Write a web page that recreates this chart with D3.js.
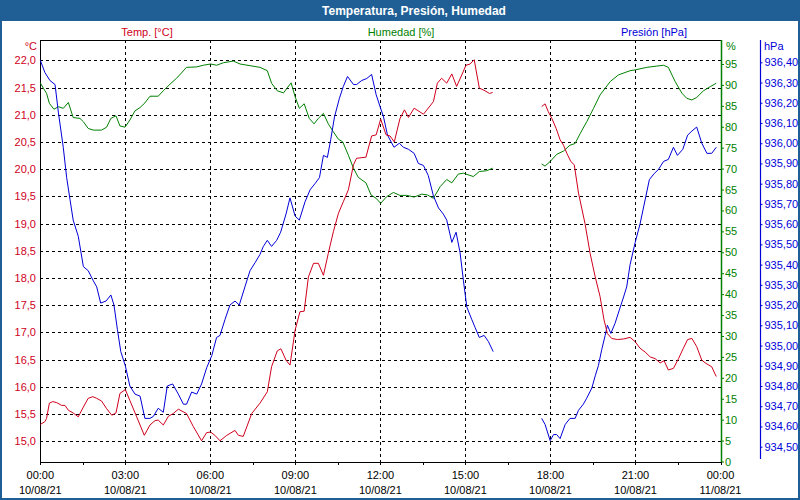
<!DOCTYPE html>
<html>
<head>
<meta charset="utf-8">
<script src="https://cdn.jsdelivr.net/npm/d3@7"></script>
<style>
  body { margin: 0; background: #fff; }
  text { font-family: "Liberation Sans", Arial, sans-serif; font-size: 11px; }
</style>
</head>
<body>
<script>
const width = 800;
const height = 500;

// [hour of 10/08/21, value]; null marks the gap in the logging
const temperature = [
  [0,15.31],[0.16,15.36],[0.22,15.42],[0.32,15.70],[0.44,15.73],[0.58,15.71],[0.75,15.66],[0.87,15.66],
  [0.99,15.57],[1.16,15.52],[1.34,15.45],[1.52,15.63],[1.69,15.79],[1.85,15.82],[1.99,15.79],[2.16,15.74],
  [2.34,15.60],[2.52,15.48],[2.67,15.52],[2.81,15.88],[3.00,15.95],[3.16,15.75],[3.40,15.45],[3.67,15.11],
  [3.87,15.30],[4.05,15.38],[4.16,15.39],[4.34,15.30],[4.52,15.46],[4.69,15.51],[4.87,15.59],[5.16,15.51],
  [5.40,15.27],[5.69,15.01],[5.87,15.16],[6.01,15.17],[6.16,15.11],[6.34,15.01],[6.58,15.11],[6.87,15.20],
  [6.99,15.11],[7.16,15.09],[7.46,15.51],[7.75,15.70],[8.01,15.91],[8.16,16.37],[8.36,16.66],[8.49,16.70],
  [8.67,16.49],[8.81,16.40],[8.99,17.04],[9.16,17.38],[9.31,17.39],[9.46,18.02],[9.64,18.27],[9.81,18.27],
  [9.99,18.05],[10.16,18.45],[10.34,18.85],[10.52,19.19],[10.69,19.40],[10.87,19.62],[11.05,20.08],[11.16,20.20],
  [11.49,20.22],[11.69,20.61],[11.85,20.63],[12.01,20.92],[12.20,20.63],[12.34,20.61],[12.49,20.50],[12.69,20.93],
  [12.85,21.09],[12.99,20.95],[13.19,21.12],[13.52,21.01],[13.87,21.24],[14.01,21.58],[14.16,21.67],[14.34,21.58],
  [14.52,21.75],[14.69,21.52],[14.87,21.73],[15.02,21.91],[15.16,21.93],[15.31,22.01],[15.49,21.49],[15.69,21.44],
  [15.85,21.39],[15.96,21.41],
  [16.8,null],
  [17.69,21.15],[17.81,21.20],[17.92,21.06],[18.05,20.93],[18.20,20.75],[18.34,20.54],[18.46,20.44],[18.58,20.29],
  [18.72,20.14],[18.84,20.08],[18.99,19.56],[19.22,19.00],[19.40,18.45],[19.58,18.02],[19.75,17.66],[19.89,17.23],
  [20.01,16.98],[20.16,16.89],[20.36,16.87],[20.58,16.88],[20.81,16.91],[20.99,16.83],[21.16,16.71],[21.34,16.64],
  [21.52,16.55],[21.69,16.52],[21.87,16.44],[22.01,16.48],[22.16,16.31],[22.34,16.34],[22.52,16.52],[22.69,16.71],
  [22.84,16.87],[22.99,16.89],[23.16,16.74],[23.34,16.49],[23.49,16.43],[23.69,16.37],[23.85,16.19]
];

const humidity = [
  [0,90.5],[0.11,89.2],[0.22,88.0],[0.32,85.6],[0.48,84.2],[0.64,84.8],[0.81,84.4],[0.99,85.8],
  [1.16,82.2],[1.40,82.0],[1.52,81.2],[1.69,79.6],[1.87,79.2],[2.16,79.2],[2.34,79.9],[2.49,82.0],
  [2.67,82.6],[2.81,80.2],[2.99,79.9],[3.16,81.6],[3.34,83.8],[3.52,84.6],[3.69,85.7],[3.87,87.3],
  [4.16,87.3],[4.34,88.6],[4.58,90.2],[4.81,91.6],[5.16,94.2],[5.52,94.3],[5.75,94.7],[6.01,95.0],
  [6.22,94.7],[6.46,95.3],[6.81,95.7],[7.05,95.0],[7.40,94.6],[7.75,94.2],[8.01,93.4],[8.16,90.4],
  [8.36,88.6],[8.58,88.1],[8.85,90.5],[8.99,87.2],[9.14,84.4],[9.31,85.5],[9.49,82.0],[9.66,80.7],
  [9.81,82.0],[9.99,83.2],[10.16,80.7],[10.34,78.8],[10.52,77.0],[10.67,76.4],[10.87,73.2],[11.05,70.1],
  [11.22,67.9],[11.49,66.6],[11.67,63.7],[11.85,62.9],[12.01,61.7],[12.22,63.3],[12.46,64.3],[12.69,63.6],
  [12.93,63.6],[13.19,63.2],[13.46,63.9],[13.66,63.7],[13.87,62.9],[14.11,65.7],[14.34,67.4],[14.52,66.6],
  [14.75,68.7],[14.93,68.9],[15.28,68.1],[15.49,69.3],[15.75,69.5],[15.96,70.1],
  [16.8,null],
  [17.69,71.1],[17.81,70.6],[17.99,71.7],[18.22,73.4],[18.46,74.2],[18.69,75.6],[18.87,76.0],[19.05,78.4],
  [19.28,81.2],[19.52,84.4],[19.75,87.6],[20.11,90.8],[20.40,92.4],[20.81,93.4],[21.00,93.6],[21.40,94.2],
  [21.75,94.5],[21.99,94.7],[22.16,94.2],[22.40,90.8],[22.64,88.0],[22.81,86.8],[22.99,86.4],[23.16,87.0],
  [23.40,88.6],[23.64,89.6],[23.85,90.4]
];

const pressure = [
  [0,936.41],[0.16,936.35],[0.34,936.31],[0.52,936.29],[0.64,936.15],[0.81,935.98],[0.93,935.83],[1.05,935.72],
  [1.16,935.62],[1.34,935.54],[1.52,935.39],[1.69,935.37],[1.87,935.32],[1.99,935.29],[2.13,935.21],[2.32,935.22],
  [2.49,935.25],[2.60,935.20],[2.72,935.08],[2.84,934.97],[3.00,934.90],[3.16,934.80],[3.34,934.76],[3.52,934.75],
  [3.69,934.64],[3.87,934.64],[3.99,934.65],[4.16,934.69],[4.34,934.67],[4.48,934.80],[4.67,934.81],[4.87,934.76],
  [5.05,934.71],[5.16,934.71],[5.34,934.77],[5.52,934.76],[5.69,934.81],[5.87,934.89],[6.05,934.95],[6.22,935.04],
  [6.34,935.05],[6.52,935.13],[6.69,935.20],[6.87,935.22],[7.02,935.20],[7.22,935.29],[7.40,935.37],[7.58,935.41],
  [7.75,935.45],[7.87,935.49],[8.01,935.52],[8.16,935.49],[8.34,935.52],[8.48,935.56],[8.67,935.65],[8.81,935.73],
  [8.99,935.64],[9.14,935.62],[9.34,935.71],[9.52,935.77],[9.69,935.80],[9.85,935.83],[9.99,935.94],[10.13,935.93],
  [10.25,936.02],[10.38,936.13],[10.55,936.22],[10.69,936.28],[10.84,936.33],[11.05,936.29],[11.16,936.29],[11.34,936.31],
  [11.52,936.32],[11.69,936.34],[11.85,936.24],[11.99,936.18],[12.11,936.13],[12.25,936.04],[12.48,935.98],[12.67,936.00],
  [12.81,935.98],[12.99,935.97],[13.19,935.95],[13.34,935.90],[13.52,935.89],[13.69,935.84],[13.87,935.74],[14.05,935.68],
  [14.22,935.65],[14.34,935.62],[14.52,935.51],[14.67,935.56],[14.81,935.46],[14.93,935.32],[15.05,935.19],[15.22,935.13],
  [15.34,935.09],[15.49,935.04],[15.66,935.05],[15.81,935.02],[15.98,934.97],
  [16.8,null],
  [17.69,934.64],[17.81,934.61],[17.99,934.53],[18.11,934.56],[18.22,934.56],[18.34,934.54],[18.52,934.61],[18.69,934.64],
  [18.87,934.64],[18.99,934.68],[19.16,934.71],[19.28,934.74],[19.46,934.79],[19.58,934.85],[19.69,934.90],[19.81,934.98],
  [19.93,935.05],[20.01,935.10],[20.13,935.06],[20.28,935.11],[20.44,935.18],[20.58,935.24],[20.69,935.29],[20.81,935.40],
  [20.99,935.51],[21.16,935.60],[21.34,935.72],[21.49,935.82],[21.66,935.85],[21.81,935.87],[21.99,935.91],[22.16,935.92],
  [22.34,935.98],[22.48,935.94],[22.67,935.97],[22.84,936.04],[22.99,936.06],[23.16,936.08],[23.34,936.00],[23.52,935.95],
  [23.69,935.95],[23.85,935.98]
];

const hourLabels = ["00:00", "03:00", "06:00", "09:00", "12:00", "15:00", "18:00", "21:00", "00:00"];
const dateLabels = ["10/08/21", "10/08/21", "10/08/21", "10/08/21", "10/08/21", "10/08/21", "10/08/21", "10/08/21", "11/08/21"];
const tempTicks = d3.range(15, 22.01, 0.5);
const humTicks = d3.range(0, 96, 5);
const presTicks = d3.range(934.5, 936.41, 0.1);

const cTemp = "#d0001c", cHum = "#008000", cPres = "#0000d8", frame = "#1f5f96";
const plotL = 40.3, plotR = 720.5, plotT = 40, plotB = 461.5;

const svg = d3.select("body").append("svg")
  .attr("width", width)
  .attr("height", height);

svg.append("rect").attr("width", width).attr("height", height).attr("fill", "#fff");
svg.append("rect").attr("width", width).attr("height", 21).attr("fill", frame);
svg.append("rect").attr("x", 1).attr("y", 1).attr("width", width - 2).attr("height", height - 2)
  .attr("fill", "none").attr("stroke", frame).attr("stroke-width", 2);

svg.append("text").attr("x", 414).attr("y", 14.5).attr("text-anchor", "middle")
  .attr("fill", "#fff").style("font-weight", "bold").style("font-size", "12px")
  .text("Temperatura, Presión, Humedad");

const x = d3.scaleLinear().domain([0, 24]).range([plotL, plotR]);
const yTemp = d3.scaleLinear().domain([15, 22]).range([441.3, 60.3]);
const yHum = d3.scaleLinear().domain([0, 95]).range([plotB, 64]);
const yPres = d3.scaleLinear().domain([934.5, 936.4]).range([446.7, 62.3]);

const comma = f => d => d3.format(f)(d).replace(".", ",");

// grid
const grid = svg.append("g").attr("stroke", "#000").attr("stroke-dasharray", "3,3")
  .attr("shape-rendering", "crispEdges");
grid.selectAll(".h").data(tempTicks).enter().append("line")
  .attr("x1", plotL).attr("x2", plotR)
  .attr("y1", d => Math.round(yTemp(d)) + 0.5).attr("y2", d => Math.round(yTemp(d)) + 0.5);
grid.selectAll(".v").data(d3.range(3, 22, 3)).enter().append("line")
  .attr("y1", plotT).attr("y2", plotB)
  .attr("x1", d => Math.round(x(d)) + 0.5).attr("x2", d => Math.round(x(d)) + 0.5);

// frame of the plot
const border = svg.append("g").attr("stroke", "#000").attr("shape-rendering", "crispEdges");
border.append("line").attr("x1", 40.5).attr("x2", 40.5).attr("y1", plotT).attr("y2", plotB);
border.append("line").attr("x1", 40).attr("x2", 721).attr("y1", 40.5).attr("y2", 40.5);

// temperature axis
const axT = svg.append("g").attr("transform", "translate(40,0)")
  .call(d3.axisLeft(yTemp).tickValues(tempTicks).tickSize(0).tickPadding(4).tickFormat(comma(".1f")));
axT.select(".domain").remove();
axT.selectAll("text").attr("fill", cTemp).style("font-size", "11px").style("font-family", "Liberation Sans, Arial");

// humidity axis
const axH = svg.append("g").attr("transform", "translate(721,0)")
  .call(d3.axisRight(yHum).tickValues(humTicks).tickSize(3).tickPadding(1));
axH.select(".domain").remove();
axH.append("line").attr("x1", 0.5).attr("x2", 0.5).attr("y1", plotT).attr("y2", plotB + 1)
  .attr("stroke", cHum).attr("stroke-width", 1.5);
axH.selectAll(".tick line").attr("stroke", cHum);
axH.selectAll("text").attr("fill", cHum).style("font-size", "11px").style("font-family", "Liberation Sans, Arial");

// pressure axis
const axP = svg.append("g").attr("transform", "translate(760.5,0)")
  .call(d3.axisRight(yPres).tickValues(presTicks).tickSize(2).tickPadding(2).tickFormat(comma(".2f")));
axP.select(".domain").remove();
axP.append("line").attr("x1", 0).attr("x2", 0).attr("y1", plotT).attr("y2", 459)
  .attr("stroke", cPres).attr("stroke-width", 1.2);
axP.selectAll(".tick line").attr("stroke", cPres);
axP.selectAll("text").attr("fill", cPres).style("font-size", "11px").style("font-family", "Liberation Sans, Arial");

// x axis
const axX = svg.append("g").attr("transform", `translate(0,${plotB})`)
  .call(d3.axisBottom(x).tickValues(d3.range(0, 24.01, 1.5)).tickSize(3).tickFormat(""));
axX.select(".domain").attr("shape-rendering", "crispEdges");
axX.selectAll(".tick line").attr("shape-rendering", "crispEdges");

const xl = svg.append("g").attr("text-anchor", "middle").attr("fill", "#000");
xl.selectAll(".hh").data(hourLabels).enter().append("text")
  .attr("x", (d, i) => x(i * 3)).attr("y", 479).text(d => d);
xl.selectAll(".dd").data(dateLabels).enter().append("text")
  .attr("x", (d, i) => x(i * 3)).attr("y", 494).text(d => d);

// header labels
svg.append("text").attr("x", 147).attr("y", 36).attr("text-anchor", "middle").attr("fill", cTemp).text("Temp. [°C]");
svg.append("text").attr("x", 401).attr("y", 36).attr("text-anchor", "middle").attr("fill", cHum).text("Humedad [%]");
svg.append("text").attr("x", 654).attr("y", 36).attr("text-anchor", "middle").attr("fill", cPres).text("Presión [hPa]");
svg.append("text").attr("x", 37).attr("y", 50).attr("text-anchor", "end").attr("fill", cTemp).text("°C");
svg.append("text").attr("x", 726).attr("y", 50).attr("fill", cHum).text("%");
svg.append("text").attr("x", 764).attr("y", 50).attr("fill", cPres).text("hPa");

// series
function drawLine(data, yScale, color) {
  svg.append("path")
    .datum(data)
    .attr("fill", "none")
    .attr("stroke", color)
    .attr("stroke-width", 1)
    .attr("d", d3.line().defined(d => d[1] !== null).x(d => x(d[0])).y(d => yScale(d[1])));
}
drawLine(humidity, yHum, cHum);
drawLine(pressure, yPres, cPres);
drawLine(temperature, yTemp, cTemp);
</script>
</body>
</html>
